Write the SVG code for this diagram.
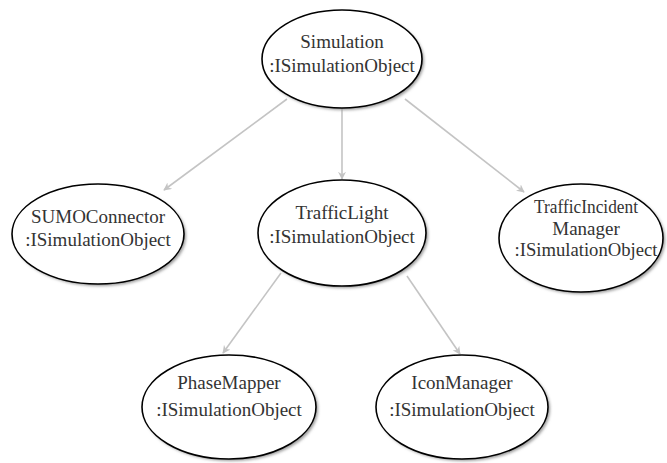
<svg xmlns="http://www.w3.org/2000/svg" width="667" height="463" viewBox="0 0 667 463">
  <style>
    .node ellipse.body { fill: #ffffff; stroke: #000000; stroke-width: 1.6; }
    .node ellipse.shadow { fill: #999999; filter: url(#soft); }
    .node text { font-family: "Liberation Serif", "Times New Roman", serif; font-size: 19px; fill: #333333; text-anchor: middle; }
    .edges line { stroke: #c4c4c4; stroke-width: 1.6; marker-end: url(#arrow); }
  </style>
  <defs>
    <filter id="soft" x="-20%" y="-20%" width="140%" height="140%">
      <feGaussianBlur stdDeviation="1.5"/>
    </filter>
    <marker id="arrow" viewBox="0 0 10 10" refX="9" refY="5" markerWidth="8" markerHeight="8" orient="auto" markerUnits="userSpaceOnUse">
      <path d="M0,0 L10,5 L0,10 L3,5 z" fill="#c4c4c4"/>
    </marker>
  </defs>
  <rect width="667" height="463" fill="#ffffff"/>

  <g class="edges" id="edges">
    <line x1="287" y1="99" x2="164" y2="190"/>
    <line x1="342" y1="108" x2="342" y2="179"/>
    <line x1="405" y1="99" x2="524" y2="192"/>
    <line x1="281" y1="273" x2="223" y2="353"/>
    <line x1="407" y1="276" x2="460" y2="354"/>
  </g>

  <g class="node" id="simulation">
    <ellipse class="shadow" cx="344" cy="61" rx="80" ry="49"/>
    <ellipse class="body" cx="342" cy="59" rx="80" ry="49"/>
    <text x="342" y="48">Simulation</text>
    <text x="342" y="72">:ISimulationObject</text>
  </g>

  <g class="node" id="sumoConnector">
    <ellipse class="shadow" cx="100" cy="236" rx="86" ry="50"/>
    <ellipse class="body" cx="98" cy="234" rx="86" ry="50"/>
    <text x="98" y="223">SUMOConnector</text>
    <text x="98" y="246">:ISimulationObject</text>
  </g>

  <g class="node" id="trafficLight">
    <ellipse class="shadow" cx="344" cy="235" rx="84" ry="53"/>
    <ellipse class="body" cx="342" cy="233" rx="84" ry="53"/>
    <text x="342" y="219">TrafficLight</text>
    <text x="342" y="243">:ISimulationObject</text>
  </g>

  <g class="node" id="trafficIncidentManager">
    <ellipse class="shadow" cx="583" cy="240" rx="82" ry="54"/>
    <ellipse class="body" cx="581" cy="238" rx="82" ry="54"/>
    <text x="586" y="213" textLength="104" lengthAdjust="spacingAndGlyphs">TrafficIncident</text>
    <text x="586" y="235">Manager</text>
    <text x="586" y="256" textLength="143" lengthAdjust="spacingAndGlyphs">:ISimulationObject</text>
  </g>

  <g class="node" id="phaseMapper">
    <ellipse class="shadow" cx="231" cy="409" rx="87" ry="52"/>
    <ellipse class="body" cx="229" cy="407" rx="87" ry="52"/>
    <text x="229" y="389">PhaseMapper</text>
    <text x="229" y="416">:ISimulationObject</text>
  </g>

  <g class="node" id="iconManager">
    <ellipse class="shadow" cx="464" cy="409" rx="86" ry="52"/>
    <ellipse class="body" cx="462" cy="407" rx="86" ry="52"/>
    <text x="462" y="389">IconManager</text>
    <text x="462" y="416">:ISimulationObject</text>
  </g>
</svg>
